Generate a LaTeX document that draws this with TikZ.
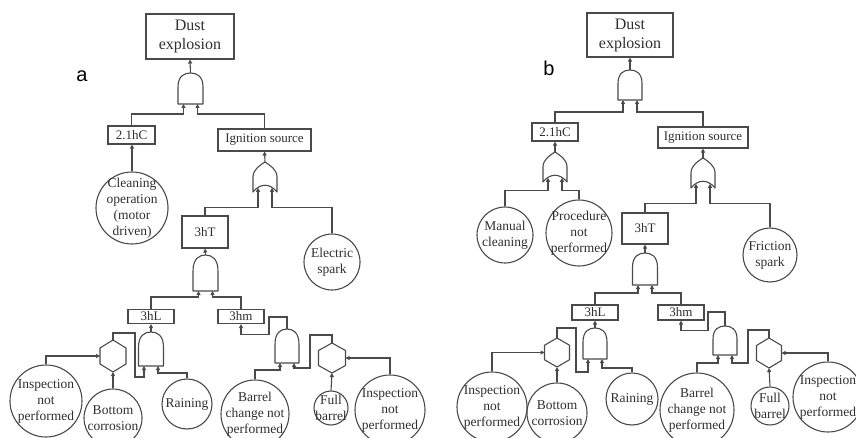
\documentclass[tikz,border=0pt]{standalone}
\usepackage{fontspec}
\setmainfont{Liberation Serif}
\newfontfamily\labfont{Liberation Sans}
\usetikzlibrary{arrows.meta}
\definecolor{lncol}{HTML}{4A4A4A}
\definecolor{txcol}{HTML}{303030}
\tikzset{
  gate/.style={draw=lncol, line width=1.1pt, line join=round},
  arr/.style={draw=lncol, line width=1.1pt, -{Triangle[length=4pt,width=4pt]}},
  evbox/.style={draw=lncol, line width=1.1pt, rectangle, inner sep=0pt, text=txcol, font=\fontsize{13}{15}\selectfont, align=center},
  evcirc/.style={draw=lncol, line width=1.1pt, circle, inner sep=0pt},
  evtxt/.style={text=txcol, font=\fontsize{13.5}{16}\selectfont, align=center, inner sep=0pt},
  lab/.style={font=\labfont\fontsize{20}{24}\selectfont, text=black, inner sep=0pt},
  pics/andg/.style 2 args={code={
    \draw[gate] (-#1/2,#2) -- (-#1/2,#2*0.45) .. controls (-#1/2,#2*0.1) and (-#1*0.25,0) .. (0,0) .. controls (#1*0.25,0) and (#1/2,#2*0.1) .. (#1/2,#2*0.45) -- (#1/2,#2) -- cycle;
    \coordinate (-out) at (0,0);
    \coordinate (-in1) at (-7,#2);
    \coordinate (-in2) at (7,#2);
  }},
  pics/org/.style 2 args={code={
    \draw[gate] (-#1/2,#2) -- (-#1/2,#2*0.5) .. controls (-#1/2,#2*0.25) and (-#1*0.2,#2*0.1) .. (0,0) .. controls (#1*0.2,#2*0.1) and (#1/2,#2*0.25) .. (#1/2,#2*0.5) -- (#1/2,#2) .. controls (#1*0.2,#2*0.7) and (-#1*0.2,#2*0.7) .. cycle;
    \coordinate (-out) at (0,0);
    \coordinate (-in1) at (-7,#2*0.86);
    \coordinate (-in2) at (7,#2*0.86);
  }},
  pics/hexg/.style 2 args={code={
    \draw[gate] (0,-#2/2) -- (#1/2,-#2/4) -- (#1/2,#2/4) -- (0,#2/2) -- (-#1/2,#2/4) -- (-#1/2,-#2/4) -- cycle;
    \coordinate (-top) at (0,-#2/2);
    \coordinate (-bot) at (0,#2/2);
    \coordinate (-left) at (-#1/2,0);
    \coordinate (-right) at (#1/2,0);
  }},
}
\begin{document}
\begin{tikzpicture}[x=1pt,y=-1pt]
\fill[white] (0,0) rectangle (856,438);
\useasboundingbox (0,0) rectangle (856,438);

% ---------------- panel a ----------------
\node[evbox, minimum width=88pt, minimum height=45pt, font=\fontsize{16}{19}\selectfont] (dustA) at (190,36.5) {Dust\\explosion};
\node[lab] (labA) at (82,76) {a};
\pic (gA1) at (190.5,73) {andg={25}{31}};
\node[evbox, minimum width=47pt, minimum height=18pt] (hcA) at (131.5,135) {2.1hC};
\node[evbox, minimum width=93pt, minimum height=22pt] (ignA) at (264.5,140) {Ignition source};
\node[evcirc, minimum size=72pt] (cleanA) at (132,208) {};
\node[evtxt] (cleanAt) at (cleanA) {Cleaning\\operation\\(motor\\driven)};
\pic (oA1) at (265,162) {org={24}{30}};
\node[evbox, minimum width=46pt, minimum height=32pt] (thA) at (205,232) {3hT};
\node[evcirc, minimum size=56pt] (elecA) at (332,262) {};
\node[evtxt] (elecAt) at (elecA) {Electric\\spark};
\pic (gA2) at (205.5,255) {andg={25}{36}};
\node[evbox, minimum width=46pt, minimum height=14pt] (lA) at (151,316.5) {3hL};
\node[evbox, minimum width=46pt, minimum height=14pt] (mA) at (241,316.5) {3hm};
\pic (gA3) at (151,332) {andg={25}{34}};
\pic (xA1) at (113,356) {hexg={26}{32}};
\node[evcirc, minimum size=72pt] (inLA) at (46,401) {};
\node[evtxt] (inLAt) at (inLA) {Inspection\\not\\performed};
\node[evcirc, minimum size=58pt] (botA) at (113,418) {};
\node[evtxt] (botAt) at (botA) {Bottom\\corrosion};
\node[evcirc, minimum size=50pt] (rainA) at (187,404) {};
\node[evtxt] (rainAt) at (rainA) {Raining};
\pic (gA4) at (287,329) {andg={24}{34}};
\pic (xA2) at (332,358) {hexg={27}{30}};
\node[evcirc, minimum size=68pt] (barA) at (255,414) {};
\node[evtxt] (barAt) at (barA) {Barrel\\change not\\performed};
\node[evcirc, minimum size=34pt] (fullA) at (331,408) {};
\node[evtxt] (fullAt) at (fullA) {Full\\barrel};
\node[evcirc, minimum size=70pt] (inRA) at (390,410) {};
\node[evtxt] (inRAt) at (inRA) {Inspection\\not\\performed};

\draw[arr] (gA1-out) -- (dustA.south);
\draw[arr] (hcA.north) |- ([shift={(0,10)}]gA1-in1) -- (gA1-in1);
\draw[arr] (ignA.north) |- ([shift={(0,10)}]gA1-in2) -- (gA1-in2);
\draw[arr] (cleanA.north) -- (cleanA.north |- hcA.south);
\draw[arr] (oA1-out) -- (ignA.south);
\draw[arr] (thA.north) |- ([shift={(0,20)}]oA1-in1) -- (oA1-in1);
\draw[arr] (elecA.north) |- ([shift={(0,20)}]oA1-in2) -- (oA1-in2);
\draw[arr] (gA2-out) -- (thA.south);
\draw[arr] (lA.north) |- ([shift={(0,6)}]gA2-in1) -- (gA2-in1);
\draw[arr] (mA.north) |- ([shift={(0,6)}]gA2-in2) -- (gA2-in2);
\draw[arr] (gA3-out) -- (lA.south);
\draw[arr] (xA1-top) |- ++(22,-7) |- ([shift={(0,11)}]gA3-in1) -- (gA3-in1);
\draw[arr] (rainA.north) |- ([shift={(0,7)}]gA3-in2) -- (gA3-in2);
\draw[arr] (inLA.north) |- (xA1-left);
\draw[arr] (botA.north) -- (xA1-bot);
\draw[arr] (gA4-out) |- ++(-18,-12) |- ([shift={(0,10)}]mA.south) -- (mA.south);
\draw[arr] (barA.north) |- ([shift={(0,7)}]gA4-in1) -- (gA4-in1);
\draw[arr] (xA2-top) |- ++(-22,-8) |- ([shift={(0,5)}]gA4-in2) -- (gA4-in2);
\draw[arr] (inRA.north) |- (xA2-right);
\draw[arr] (fullA.north) -- (xA2-bot);

% ---------------- panel b ----------------
\node[evbox, minimum width=86pt, minimum height=44pt, font=\fontsize{16}{19}\selectfont] (dustB) at (630,35) {Dust\\explosion};
\node[lab] (labB) at (549,68) {b};
\pic (gB1) at (630,70) {andg={24}{30}};
\node[evbox, minimum width=46pt, minimum height=18pt] (hcB) at (555,132) {2.1hC};
\node[evbox, minimum width=90pt, minimum height=21pt] (ignB) at (703,137.5) {Ignition source};
\pic (oB1) at (555,152) {org={24}{30}};
\pic (oB2) at (703,158) {org={24}{30}};
\node[evcirc, minimum size=56pt] (manB) at (505,235) {};
\node[evtxt] (manBt) at (manB) {Manual\\cleaning};
\node[evcirc, minimum size=66pt] (procB) at (579,233) {};
\node[evtxt] (procBt) at (procB) {Procedure\\not\\performed};
\node[evbox, minimum width=46pt, minimum height=31pt] (thB) at (645,228.5) {3hT};
\node[evcirc, minimum size=54pt] (fricB) at (770,255) {};
\node[evtxt] (fricBt) at (fricB) {Friction\\spark};
\pic (gB2) at (645,253) {andg={25}{32}};
\node[evbox, minimum width=46pt, minimum height=15pt] (lB) at (595,312.5) {3hL};
\node[evbox, minimum width=46pt, minimum height=15pt] (mB) at (681,312.5) {3hm};
\pic (gB3) at (595,328) {andg={24}{31}};
\pic (xB1) at (557,352.5) {hexg={25}{29}};
\node[evcirc, minimum size=70pt] (inLB) at (492,407) {};
\node[evtxt] (inLBt) at (inLB) {Inspection\\not\\performed};
\node[evcirc, minimum size=60pt] (botB) at (557,413) {};
\node[evtxt] (botBt) at (botB) {Bottom\\corrosion};
\node[evcirc, minimum size=52pt] (rainB) at (632,399) {};
\node[evtxt] (rainBt) at (rainB) {Raining};
\pic (gB4) at (725,326) {andg={24}{29}};
\pic (xB2) at (769,353) {hexg={25}{30}};
\node[evcirc, minimum size=74pt] (barB) at (697,410) {};
\node[evtxt] (barBt) at (barB) {Barrel\\change not\\performed};
\node[evcirc, minimum size=38pt] (fullB) at (770,406) {};
\node[evtxt] (fullBt) at (fullB) {Full\\barrel};
\node[evcirc, minimum size=70pt] (inRB) at (828,397) {};
\node[evtxt] (inRBt) at (inRB) {Inspection\\not\\performed};

\draw[arr] (gB1-out) -- (dustB.south);
\draw[arr] (hcB.north) |- ([shift={(0,12)}]gB1-in1) -- (gB1-in1);
\draw[arr] (ignB.north) |- ([shift={(0,12)}]gB1-in2) -- (gB1-in2);
\draw[arr] (oB1-out) -- (hcB.south);
\draw[arr] (manB.north) |- ([shift={(0,13)}]oB1-in1) -- (oB1-in1);
\draw[arr] (procB.north) |- ([shift={(0,13)}]oB1-in2) -- (oB1-in2);
\draw[arr] (oB2-out) -- (ignB.south);
\draw[arr] (thB.north) |- ([shift={(0,20)}]oB2-in1) -- (oB2-in1);
\draw[arr] (fricB.north) |- ([shift={(0,20)}]oB2-in2) -- (oB2-in2);
\draw[arr] (gB2-out) -- (thB.south);
\draw[arr] (lB.north) |- ([shift={(0,8)}]gB2-in1) -- (gB2-in1);
\draw[arr] (mB.north) |- ([shift={(0,8)}]gB2-in2) -- (gB2-in2);
\draw[arr] (gB3-out) -- (lB.south);
\draw[arr] (xB1-top) |- ++(19,-10) |- ([shift={(0,13)}]gB3-in1) -- (gB3-in1);
\draw[arr] (rainB.north) |- ([shift={(0,9)}]gB3-in2) -- (gB3-in2);
\draw[arr] (inLB.north) |- (xB1-left);
\draw[arr] (botB.north) -- (xB1-bot);
\draw[arr] (gB4-out) |- ++(-17,-14) |- ([shift={(0,10)}]mB.south) -- (mB.south);
\draw[arr] (barB.north) |- ([shift={(0,8)}]gB4-in1) -- (gB4-in1);
\draw[arr] (xB2-top) |- ++(-21,-8) |- ([shift={(0,8)}]gB4-in2) -- (gB4-in2);
\draw[arr] (inRB.north) |- (xB2-right);
\draw[arr] (fullB.north) -- (xB2-bot);
\end{tikzpicture}
\end{document}
